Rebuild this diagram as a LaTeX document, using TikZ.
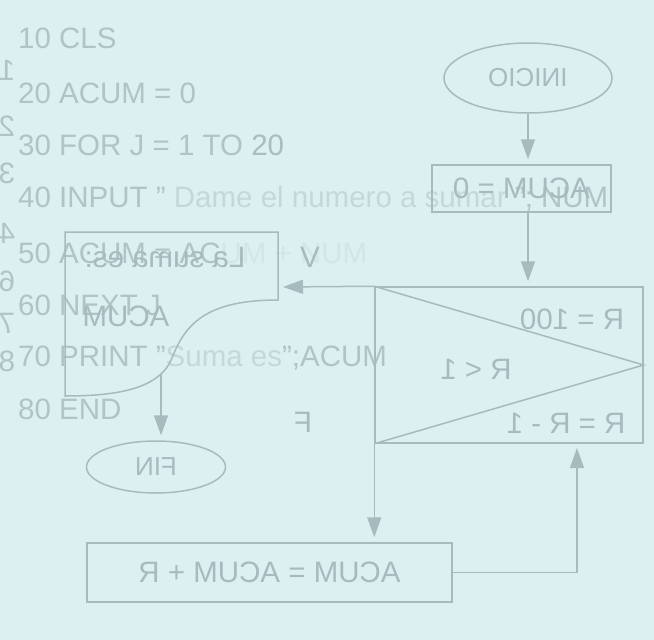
\documentclass[tikz,border=0pt]{standalone}
\usepackage{fontspec}
\setmainfont{Liberation Sans}
\usetikzlibrary{arrows.meta, positioning, shapes.geometric, calc}
\definecolor{paper}{HTML}{DCF0F1}
\definecolor{ink}{HTML}{A6BBBE}
\definecolor{code}{HTML}{B0C4C6}
\definecolor{codefade}{HTML}{C4D7D9}
\definecolor{codeghost}{HTML}{D2E6E7}
\definecolor{smudge}{HTML}{A9BCBE}
\newcommand{\mir}[1]{\reflectbox{#1}}

\begin{document}
\begin{tikzpicture}[x=1pt, y=-1pt, font=\fontsize{29.5}{32}\selectfont,
  flow/.style={draw=ink, line width=1.5pt},
  term/.style={flow, ellipse, inner sep=0pt, text=ink},
  proc/.style={flow, rectangle, inner sep=0pt, text=ink},
  lbl/.style={text=ink, inner sep=0pt},
  arr/.style={draw=ink, line width=1.5pt,
    -{Triangle[length=20pt,width=14pt]}, shorten >=5pt},
  codeline/.style={anchor=base west, text=code, inner sep=0pt},
  edgenum/.style={text=code, inner sep=0pt}]
  \useasboundingbox (0,0) rectangle (654,640);
  \fill[paper] (0,0) rectangle (654,640);
  \clip (0,0) rectangle (654,640);

  % Listing
  \node[codeline] (l10) at (18,48)  {10 CLS};
  \node[codeline] (l20) at (18,103) {20 ACUM = 0};
  \node[codeline] (l30) at (18,155) {30 FOR J = 1 TO \textcolor{smudge}{20}};
  \node[codeline] (l40) at (18,207)
    {40 INPUT " \textcolor{codefade}{Dame el numero a sumar} "; NUM};
  \node[codeline] (l50) at (18,263)
    {50 ACUM = AC\textcolor{codeghost}{UM + NUM}};
  \node[codeline] (l60) at (18,315) {60 NEXT J};
  \node[codeline] (l70) at (18,366)
    {70 PRINT "\textcolor{codefade}{Suma es}";ACUM};
  \node[codeline] (l80) at (18,419) {80 END};

  % Numbers seen through the page
  \foreach \d/\y in {1/70, 2/126, 3/173, 4/233, 6/281, 7/323, 8/361}
    \node[edgenum] (e\d) at (7,\y) {\mir{\d}};

  % Flowchart (mirrored)
  \node[term, minimum width=168, minimum height=70,
        font=\fontsize{26}{28}\selectfont] (inicio) at (528,78) {\mir{INICIO}};
  \node[proc, minimum width=179, minimum height=47] (acum0)
    at (521.5,188.5) {\mir{ACUM = 0}};
  \node[proc, minimum width=268, minimum height=156] (dec) at (509,365) {};
  \draw[flow] (dec.north west) -- (dec.east) -- (dec.south west);
  \node[lbl] (ini) at (572,319) {\mir{R = 100}};
  \node[lbl] (cond) at (476,369) {\mir{R < 1}};
  \node[lbl] (inc) at (566,423) {\mir{R = R - 1}};

  % Output document
  \draw[flow] (65,232) -- (278,232) -- (278,300)
    .. controls (205,300) and (185,325) .. (172,358)
    .. controls (160,388) and (120,396) .. (65,396) -- cycle;
  \coordinate (docin) at (278,287);
  \coordinate (docout) at (161,374);
  \node[lbl] (msg) at (165,257) {\mir{La suma es:}};
  \node[lbl] (msgv) at (126,316) {\mir{ACUM}};

  \node[term, minimum width=139, minimum height=52,
        font=\fontsize{26}{28}\selectfont] (fin) at (156,467) {\mir{FIN}};
  \node[proc, minimum width=365, minimum height=59] (suma)
    at (269.5,572.5) {\mir{ACUM = ACUM + R}};
  \coordinate (back) at (577,443);

  \node[lbl] (vlab) at (310,257) {V};
  \node[lbl] (flab) at (303,422) {\mir{F}};

  % Connectors
  \draw[arr] (inicio.south) -- (acum0.north -| inicio.south);
  \draw[arr] (acum0.south -| inicio.south) -- (dec.north -| inicio.south);
  \draw[arr] (dec.north west) -- (docin);
  \draw[arr] (docout) -- (docout |- fin.north);
  \draw[arr] (dec.south west) -- (dec.south west |- suma.north);
  \draw[arr] (suma.east) -| (back);
\end{tikzpicture}
\end{document}
